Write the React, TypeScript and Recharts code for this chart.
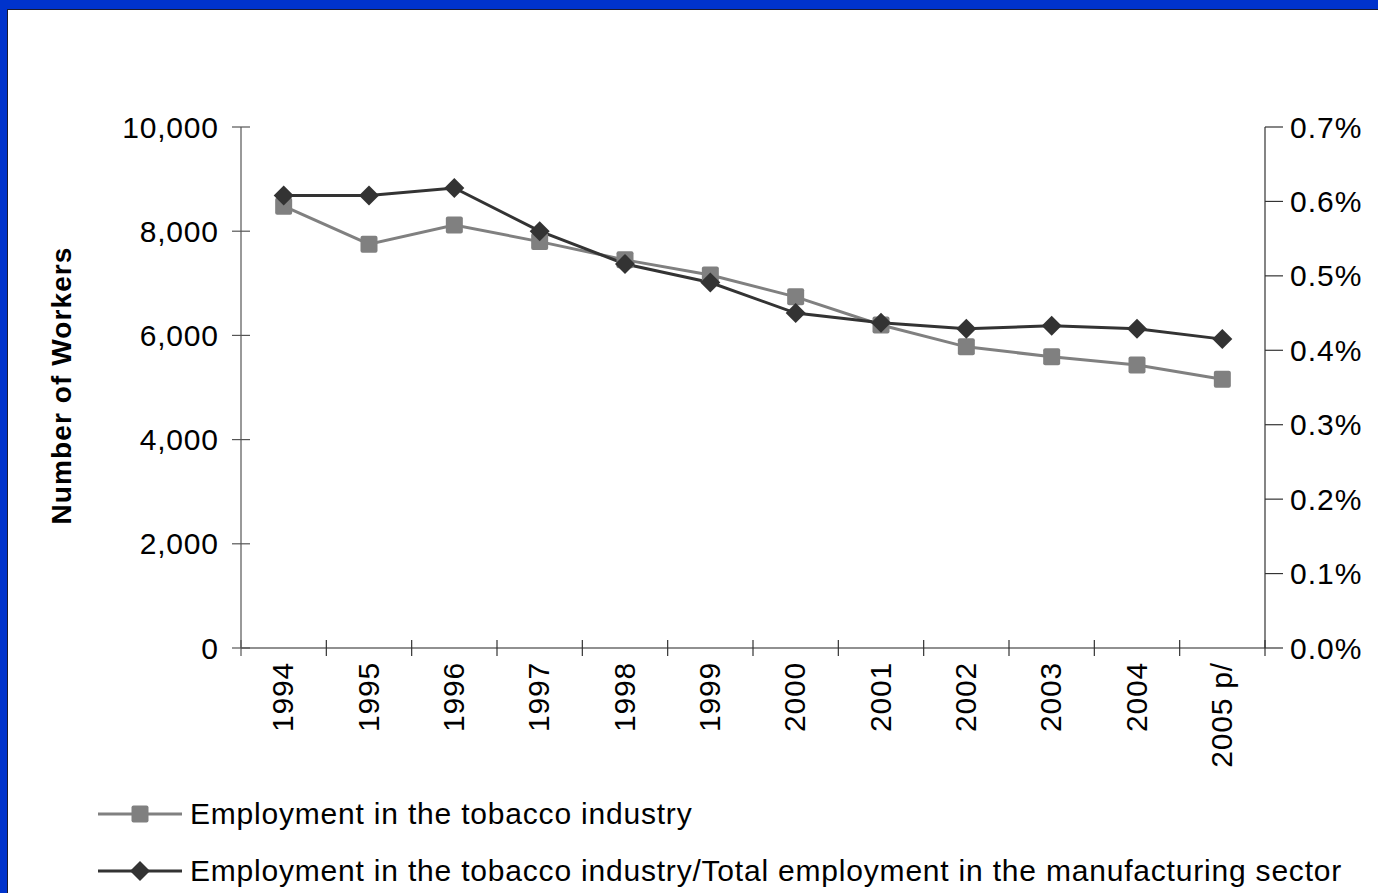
import React from 'react';
import { LineChart, Line, XAxis, YAxis, Legend, Label } from 'recharts';

const years = ['1994', '1995', '1996', '1997', '1998', '1999', '2000', '2001', '2002', '2003', '2004', '2005 p/'];
const tobaccoEmployment = [8480, 7750, 8120, 7800, 7450, 7160, 6740, 6200, 5780, 5590, 5430, 5160];
const shareOfManufacturing = [0.608, 0.608, 0.618, 0.56, 0.516, 0.491, 0.45, 0.437, 0.429, 0.433, 0.429, 0.415];
const leftTicks = [0, 2000, 4000, 6000, 8000, 10000];
const rightTicks = [0, 0.1, 0.2, 0.3, 0.4, 0.5, 0.6, 0.7];
const seriesNames = [
  'Employment in the tobacco industry',
  'Employment in the tobacco industry/Total employment in the manufacturing sector',
];
const yAxisTitle = 'Number of Workers';

const data = years.map((year, i) => ({
  year,
  employment: tobaccoEmployment[i],
  share: shareOfManufacturing[i],
}));

const FONT = '"Liberation Sans", Arial, Helvetica, sans-serif';
const GRAY = '#808080';
const DARK = '#333333';
const PLOT_W = 1024;
const HALF_BAND = PLOT_W / years.length / 2;
const TICK_FS = 30;
const TICK_LS = 0.8;

const SquareDot = (props: any) => {
  const { cx, cy, index } = props;
  if (cx == null || cy == null) return null;
  return <rect key={`sq-${index}`} x={cx - 8.5} y={cy - 8.5} width={17} height={17} rx={2} fill={GRAY} />;
};

const DiamondDot = (props: any) => {
  const { cx, cy, index } = props;
  if (cx == null || cy == null) return null;
  const r = 10;
  return (
    <polygon
      key={`dm-${index}`}
      points={`${cx},${cy - r} ${cx + r},${cy} ${cx},${cy + r} ${cx - r},${cy}`}
      fill={DARK}
    />
  );
};

const LeftTick = (props: any) => {
  const { x, y, payload } = props;
  return (
    <g>
      <line x1={x + 14} x2={x + 32} y1={y} y2={y} stroke="#555" strokeWidth={1.2} />
      <text
        x={x + TICK_LS}
        y={y}
        dy="0.35em"
        textAnchor="end"
        fontSize={TICK_FS}
        letterSpacing={TICK_LS}
        fontFamily={FONT}
        fill="#000"
      >
        {Number(payload.value).toLocaleString('en-US')}
      </text>
    </g>
  );
};

const RightTick = (props: any) => {
  const { x, y, payload } = props;
  return (
    <g>
      <line x1={x - 25} x2={x - 7} y1={y} y2={y} stroke="#333" strokeWidth={1.2} />
      <text
        x={x}
        y={y}
        dy="0.35em"
        textAnchor="start"
        fontSize={TICK_FS}
        letterSpacing={1}
        fontFamily={FONT}
        fill="#000"
      >
        {Number(payload.value).toFixed(1) + '%'}
      </text>
    </g>
  );
};

const XTick = (props: any) => {
  const { x, y, payload, index } = props;
  const axisY = y - 14;
  return (
    <g>
      <line x1={x + HALF_BAND} x2={x + HALF_BAND} y1={axisY - 8} y2={axisY + 8} stroke="#333" strokeWidth={1.2} />
      {index === 0 && (
        <line x1={x - HALF_BAND} x2={x - HALF_BAND} y1={axisY - 8} y2={axisY + 8} stroke="#555" strokeWidth={1.2} />
      )}
      <text
        x={x}
        y={y - TICK_LS}
        dy="0.35em"
        textAnchor="end"
        transform={`rotate(-90 ${x} ${y})`}
        fontSize={TICK_FS}
        letterSpacing={TICK_LS}
        fontFamily={FONT}
        fill="#000"
      >
        {payload.value}
      </text>
    </g>
  );
};

const AxisTitle = (props: any) => {
  const { viewBox } = props;
  const cx = 61;
  const cy = viewBox.y + viewBox.height / 2 - 2;
  return (
    <text
      x={cx}
      y={cy}
      dy="0.35em"
      textAnchor="middle"
      transform={`rotate(-90 ${cx} ${cy})`}
      fontSize={28}
      letterSpacing={1.1}
      fontWeight="bold"
      fontFamily={FONT}
      fill="#000"
    >
      {yAxisTitle}
    </text>
  );
};

const LegendContent = () => {
  const icons = [
    (
      <svg width={84} height={20}>
        <line x1={0} x2={84} y1={10} y2={10} stroke={GRAY} strokeWidth={3} />
        <rect x={33.5} y={1.5} width={17} height={17} rx={2} fill={GRAY} />
      </svg>
    ),
    (
      <svg width={84} height={22}>
        <line x1={0} x2={84} y1={11} y2={11} stroke={DARK} strokeWidth={3} />
        <polygon points="42,1 52,11 42,21 32,11" fill={DARK} />
      </svg>
    ),
  ];
  return (
    <div style={{ fontFamily: FONT }}>
      {seriesNames.map((name, i) => (
        <div
          key={name}
          style={{ display: 'flex', alignItems: 'center', height: 57, whiteSpace: 'nowrap' }}
        >
          <div style={{ width: 84, height: 22, display: 'flex', alignItems: 'center' }}>{icons[i]}</div>
          <span style={{ marginLeft: 8, fontSize: 30, letterSpacing: 0.8, color: '#000' }}>{name}</span>
        </div>
      ))}
    </div>
  );
};

export default function App() {
  return (
    <div style={{ position: 'absolute', left: 0, top: 0, width: 1378, height: 893, background: '#0033CC', overflow: 'hidden' }}>
      <div
        style={{
          position: 'absolute',
          left: 7,
          top: 9,
          width: 1378,
          height: 893,
          background: '#ffffff',
          borderLeft: '1.5px solid #1a1a2e',
          borderTop: '1.5px solid #1a1a2e',
        }}
      />
      <div style={{ position: 'absolute', left: 0, top: 0 }}>
        <LineChart width={1378} height={893} data={data} margin={{ top: 127, right: 0, bottom: 0, left: 0 }}>
          <XAxis
            dataKey="year"
            scale="band"
            interval={0}
            height={245}
            tickSize={8}
            tickMargin={6}
            tickLine={false}
            axisLine={{ stroke: '#222', strokeWidth: 1.2 }}
            tick={<XTick />}
          />
          <YAxis
            yAxisId="left"
            orientation="left"
            width={241}
            domain={[0, 10000]}
            ticks={leftTicks}
            interval={0}
            tickSize={9}
            tickMargin={14}
            tickLine={false}
            axisLine={{ stroke: '#555', strokeWidth: 1.2 }}
            tick={<LeftTick />}
          >
            <Label content={<AxisTitle />} />
          </YAxis>
          <YAxis
            yAxisId="right"
            orientation="right"
            width={113}
            domain={[0, 0.7]}
            ticks={rightTicks}
            interval={0}
            tickSize={9}
            tickMargin={16}
            tickLine={false}
            axisLine={{ stroke: '#333', strokeWidth: 1.2 }}
            tick={<RightTick />}
          />
          <Legend
            layout="vertical"
            align="center"
            verticalAlign="middle"
            wrapperStyle={{ left: 98, top: 785, width: 1280 }}
            content={<LegendContent />}
          />
          <Line
            yAxisId="left"
            dataKey="employment"
            name={seriesNames[0]}
            stroke={GRAY}
            strokeWidth={3}
            dot={SquareDot}
            activeDot={false}
            isAnimationActive={false}
          />
          <Line
            yAxisId="right"
            dataKey="share"
            name={seriesNames[1]}
            stroke={DARK}
            strokeWidth={3}
            dot={DiamondDot}
            activeDot={false}
            isAnimationActive={false}
          />
        </LineChart>
      </div>
    </div>
  );
}
